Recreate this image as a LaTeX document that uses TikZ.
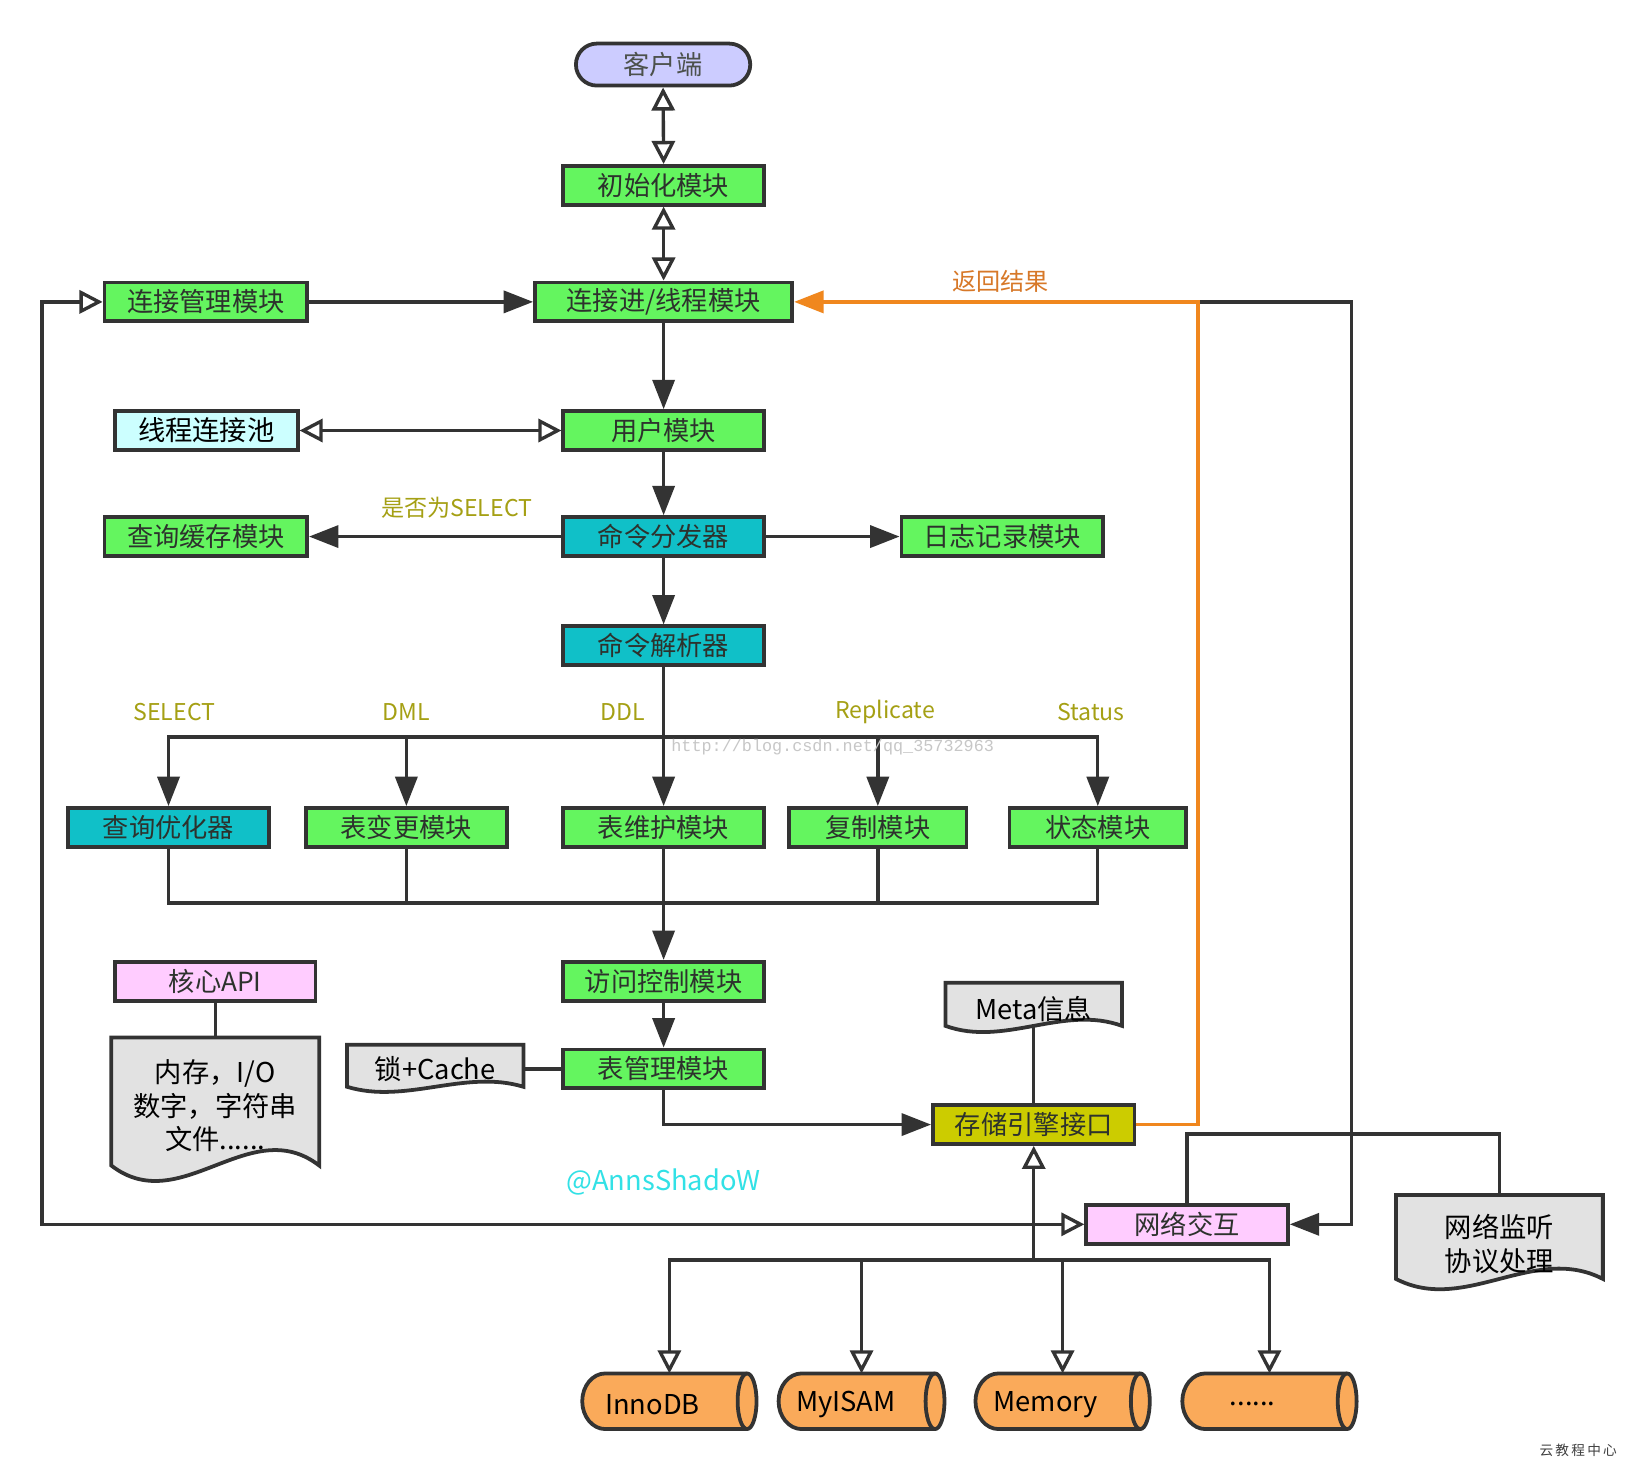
\documentclass[tikz,border=0pt]{standalone}
\usepackage{fontspec}
\setmainfont{Noto Sans CJK SC}
\newfontfamily\wmfont{Liberation Mono}
\usetikzlibrary{arrows.meta,calc,backgrounds}
\definecolor{bd}{RGB}{51,51,51}
\definecolor{gr}{RGB}{100,245,95}
\definecolor{tl}{RGB}{16,192,200}
\definecolor{lav}{RGB}{204,204,255}
\definecolor{lcy}{RGB}{204,255,255}
\definecolor{pk}{RGB}{255,204,255}
\definecolor{ol}{RGB}{204,204,0}
\definecolor{gy}{RGB}{226,226,226}
\definecolor{og}{RGB}{250,170,90}
\definecolor{orl}{RGB}{240,135,30}
\definecolor{orlab}{RGB}{215,120,40}
\definecolor{lbl}{RGB}{165,160,20}
\definecolor{txt}{RGB}{45,50,45}
\definecolor{cy}{RGB}{50,225,230}
\newcommand\docshape[3]{\draw[docline] (#1.south west) -- (#1.north west) -- (#1.north east) -- (#1.south east) .. controls ($(#1.south east)+(-#2/3,-3.4*#3)$) and ($(#1.south west)+(#2/3,3.4*#3)$) .. (#1.south west) -- cycle;}
\newcommand\cylshape[1]{\draw[cylline] ($(#1.north west)+(22,0)$) -- ($(#1.north east)+(-9,0)$) arc[start angle=90,end angle=-90,x radius=9pt,y radius=26.5pt] -- ($(#1.south west)+(22,0)$) arc[start angle=270,end angle=90,x radius=22pt,y radius=26.5pt] -- cycle;
 \draw[draw=bd,line width=3.6pt] ($(#1.north east)+(-9,0)$) arc[start angle=90,end angle=270,x radius=9pt,y radius=26.5pt];}
\begin{document}
\begin{tikzpicture}[x=1pt,y=-1pt,
 box/.style={draw=bd,line width=3.6pt,inner sep=0pt,minimum height=37pt,text=txt,font=\fontsize{25}{30}\selectfont},
 gbox/.style={box,fill=gr},
 tbox/.style={box,fill=tl},
 ln/.style={draw=bd,line width=3.2pt},
 fa/.style={ln,-{Triangle[length=28pt,width=21pt]}},
 oa/.style={ln,-{Triangle[open,length=22pt,width=22pt]}},
 oab/.style={ln,{Triangle[open,length=22pt,width=22pt]}-{Triangle[open,length=22pt,width=22pt]}},
 lab/.style={text=lbl,font=\fontsize{22}{26}\selectfont,inner sep=0pt},
 docframe/.style={inner sep=0pt,outer sep=0pt},
 doctext/.style={inner sep=0pt,text=black,font=\fontsize{26}{32}\selectfont,align=center},
 docline/.style={draw=bd,line width=3.6pt,fill=gy},
 cylnode/.style={inner sep=0pt,outer sep=0pt,minimum height=53pt},
 cyltext/.style={text=black,font=\fontsize{26}{30}\selectfont,inner sep=0pt},
 cylline/.style={draw=bd,line width=3.6pt,fill=og},
]
\useasboundingbox (0,0) rectangle (1569.5,1402.8);

% main boxes
\node[box,fill=lav,rounded corners=20pt,minimum width=166pt,minimum height=40pt,text=txt!85] (client) at (631.5,61.5) {客户端};
\node[gbox,minimum width=191pt] (init) at (632,176.5) {初始化模块};
\node[gbox,minimum width=245pt] (connthr) at (632,287.5) {连接进/线程模块};
\node[gbox,minimum width=193pt] (connmgr) at (196,287.5) {连接管理模块};
\node[gbox,minimum width=191pt] (user) at (632,410) {用户模块};
\node[box,fill=lcy,minimum width=174pt,text=black,font=\fontsize{26}{30}\selectfont] (pool) at (196.5,410) {线程连接池};
\node[tbox,minimum width=191pt] (disp) at (632,511) {命令分发器};
\node[gbox,minimum width=193pt] (qcache) at (196,511) {查询缓存模块};
\node[gbox,minimum width=192pt] (log) at (954.5,511) {日志记录模块};
\node[tbox,minimum width=191pt] (parser) at (632,615) {命令解析器};
\node[tbox,minimum width=192pt] (opt) at (160.5,788) {查询优化器};
\node[gbox,minimum width=191pt] (alter) at (387,788) {表变更模块};
\node[gbox,minimum width=191pt] (maint) at (632,788) {表维护模块};
\node[gbox,minimum width=169pt] (repl) at (836,788) {复制模块};
\node[gbox,minimum width=168pt] (status) at (1045.5,788) {状态模块};
\node[gbox,minimum width=191pt] (access) at (632,934.5) {访问控制模块};
\node[gbox,minimum width=191pt] (tblmgr) at (632,1018) {表管理模块};
\node[box,fill=ol,minimum width=192pt] (storage) at (984.5,1071) {存储引擎接口};
\node[box,fill=pk,minimum width=192pt] (net) at (1130.5,1166) {网络交互};
\node[box,fill=pk,minimum width=191pt] (coreapi) at (205,935) {核心API};

% documents (frames + texts)
\node[docframe,minimum width=198pt,minimum height=122pt] (mem) at (205,1049) {};
\node[docframe,minimum width=168pt,minimum height=40pt] (lock) at (414.5,1015) {};
\node[docframe,minimum width=168pt,minimum height=41pt] (meta) at (984.5,956.5) {};
\node[docframe,minimum width=197pt,minimum height=80pt] (nl) at (1428,1178) {};
\begin{scope}[on background layer]
\fill[white] (0,0) rectangle (1569.5,1402.8);
\docshape{mem}{198}{15}
\docshape{lock}{168}{5}
\docshape{meta}{168}{6}
\docshape{nl}{197}{10}
\end{scope}
\node[doctext] (memT) at ($(mem.center)+(0,4)$) {内存，I/O\\数字，字符串\\文件......};
\node[doctext] (lockT) at ($(lock.center)+(0,3)$) {锁+Cache};
\node[doctext] (metaT) at ($(meta.center)+(0,4)$) {Meta信息};
\node[doctext] (nlT) at ($(nl.center)+(0,7)$) {网络监听\\协议处理};

% cylinders
\node[cylnode,minimum width=166pt] (inno) at (637.5,1334.5) {};
\node[cylnode,minimum width=158pt] (myisam) at (820.5,1334.5) {};
\node[cylnode,minimum width=166pt] (memo) at (1012,1334.5) {};
\node[cylnode,minimum width=166pt] (dots) at (1209,1334.5) {};
\cylshape{inno}
\cylshape{myisam}
\cylshape{memo}
\cylshape{dots}
\node[cyltext] (innoT) at ($(inno.center)+(-16,3)$) {InnoDB};
\node[cyltext] (myisamT) at ($(myisam.center)+(-15,3)$) {MyISAM};
\node[cyltext] (memoT) at ($(memo.center)+(-16,3)$) {Memory};
\node[cyltext] (dotsT) at ($(dots.center)+(-16,3)$) {......};

% connectors
\draw[oab] (client.south) -- (init.north);
\draw[oab] (init.south) -- (connthr.north);
\draw[fa] (connmgr.east) -- (connthr.west);
\draw[fa] (connthr.south) -- (user.north);
\draw[oab] (pool.east) -- (user.west);
\draw[fa] (user.south) -- (disp.north);
\draw[fa] (disp.west) -- (qcache.east);
\draw[fa] (disp.east) -- (log.west);
\draw[fa] (disp.south) -- (parser.north);
\draw[fa] (parser.south) -- (maint.north);

\coordinate (busA) at (632,702);
\draw[fa] (alter.north |- busA) -- (opt.north |- busA) -- (opt.north);
\draw[fa] (alter.north |- busA) -- (status.north |- busA) -- (status.north);
\draw[fa] (alter.north |- busA) -- (alter.north);
\draw[fa] (repl.north |- busA) -- (repl.north);

\coordinate (busB) at (632,860);
\draw[ln] (opt.south) -- (opt.south |- busB) -- (status.south |- busB) -- (status.south);
\draw[ln] (alter.south) -- (alter.south |- busB);
\draw[ln] (repl.south) -- (repl.south |- busB);
\draw[fa] (maint.south) -- (access.north);
\draw[fa] (access.south) -- (tblmgr.north);
\draw[ln] (lock.east |- tblmgr.west) -- (tblmgr.west);
\draw[fa] (tblmgr.south) |- (storage.west);
\draw[ln] (meta.south) -- (storage.north);
\draw[ln] (coreapi.south) -- (mem.north);

\coordinate (busC) at (984.5,1200);
\draw[oa] (busC) -- (storage.south);
\draw[oa] (busC) -- (inno.north |- busC) -- (inno.north);
\draw[oa] (busC) -- (dots.north |- busC) -- (dots.north);
\draw[oa] (myisam.north |- busC) -- (myisam.north);
\draw[oa] (memo.north |- busC) -- (memo.north);

\coordinate (lx) at (40,700);
\draw[oab] (connmgr.west) -- (connmgr.west -| lx) -- (net.west -| lx) -- (net.west);
\coordinate (ox) at (1141,700);
\coordinate (rx) at (1287,700);
\draw[fa] (connthr.east -| ox) -- (connthr.east -| rx) -- (net.east -| rx) -- (net.east);
\draw[ln,draw=orl,-{Triangle[length=28pt,width=21pt]}] (storage.east) -- (storage.east -| ox) -- (connthr.east -| ox) -- (connthr.east);
\coordinate (ty) at (1200,1080);
\draw[ln] (net.north) -- (net.north |- ty) -- (nl.north |- ty) -- (nl.north);

% labels
\node[lab] (lsel) at (435,484) {是否为SELECT};
\node[lab] (l1) at (166,678) {SELECT};
\node[lab] (l2) at (387,678) {DML};
\node[lab] (l3) at (593,678) {DDL};
\node[lab] (l4) at (843,678) {Replicate};
\node[lab] (l5) at (1039,678) {Status};
\node[lab,text=orlab,font=\fontsize{23}{26}\selectfont] (lret) at (953,268) {返回结果};
\node[text=cy,font=\fontsize{26}{30}\selectfont,inner sep=0pt] (sig) at (632,1126) {@AnnsShadoW};
\node[text=black!22,font=\wmfont\fontsize{16}{18}\selectfont,inner sep=0pt] (wm) at (793,712) {http://blog.csdn.net/qq\_35732963};
\node[text=black!75,font=\fontsize{13}{15}\selectfont,inner sep=0pt] (wm2) at (1503,1381) {云\,教\,程\,中\,心};
\end{tikzpicture}
\end{document}
